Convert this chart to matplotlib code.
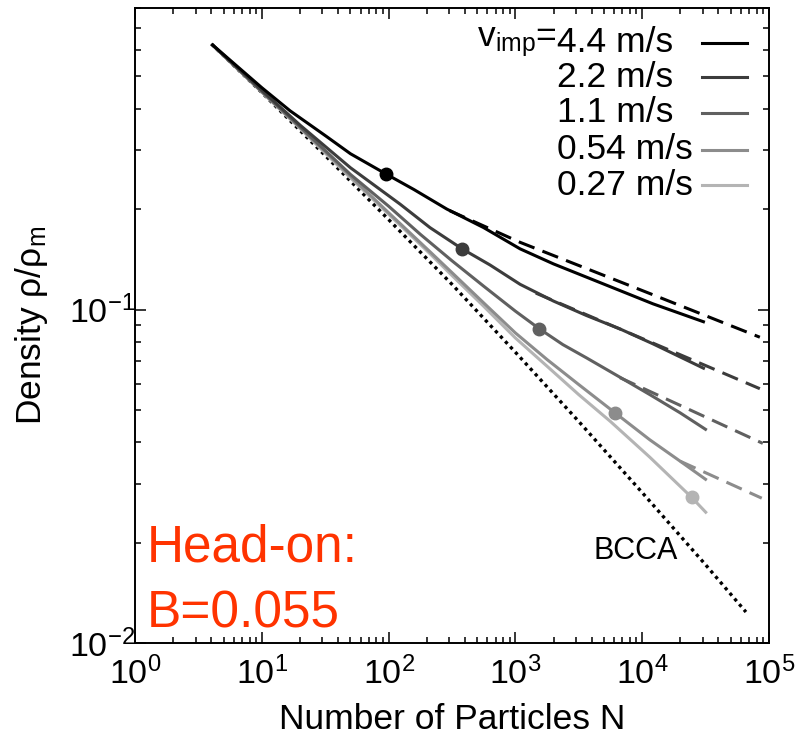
import matplotlib
matplotlib.use("Agg")
import matplotlib.pyplot as plt

plt.rcParams['font.family'] = ['Liberation Sans', 'DejaVu Sans']
plt.rcParams['mathtext.fontset'] = 'custom'
plt.rcParams['mathtext.rm'] = 'Liberation Sans'
plt.rcParams['mathtext.it'] = 'Liberation Sans'

# impact velocities (m/s) and their grey levels
speeds = ['4.4', '2.2', '1.1', '0.54', '0.27']
colors = ['#000000', '#3c3c3c', '#606060', '#8c8c8c', '#b4b4b4']

# BCCA reference line
bcca_n = [4, 10, 32, 100, 316, 1000, 3162, 10000, 31623, 66000]
bcca_rho = [0.625, 0.447, 0.288, 0.186, 0.119, 0.0745, 0.0462, 0.0283, 0.0172, 0.0124]

# simulated density vs. particle number
n_44 = [4, 10, 16.7, 32, 50, 95, 158, 288, 562, 1090, 2000, 3650, 6680, 12200, 31300]
rho_44 = [0.625, 0.462, 0.394, 0.331, 0.293, 0.255, 0.229, 0.200, 0.176, 0.152,
          0.137, 0.125, 0.114, 0.104, 0.0916]

n_22 = [4, 10, 20, 50, 123, 212, 380, 631, 1090, 2000, 3650, 6680, 12200, 31300]
rho_22 = [0.625, 0.454, 0.357, 0.266, 0.207, 0.176, 0.152, 0.136, 0.119, 0.106,
          0.0959, 0.0875, 0.0789, 0.0664]

n_11 = [4, 10, 20, 50, 100, 178, 316, 562, 1000, 1550, 2370, 3650, 6680, 11500, 20000, 32400]
rho_11 = [0.625, 0.450, 0.353, 0.254, 0.204, 0.168, 0.140, 0.1175, 0.0989, 0.0875,
          0.0785, 0.0716, 0.0627, 0.0556, 0.0490, 0.0435]

n_054 = [4, 10, 20, 50, 100, 212, 316, 562, 1000, 1780, 3160, 6170, 11500, 20000, 32400]
rho_054 = [0.625, 0.449, 0.351, 0.251, 0.195, 0.149, 0.129, 0.1047, 0.0851, 0.0708,
           0.0596, 0.0489, 0.0407, 0.0351, 0.0308]

n_027 = [4, 10, 20, 50, 100, 212, 316, 562, 1000, 1780, 3160, 5620, 11500, 24500, 32400]
rho_027 = [0.625, 0.448, 0.349, 0.248, 0.193, 0.147, 0.1265, 0.1023, 0.0822, 0.0676,
           0.0556, 0.0462, 0.0361, 0.0274, 0.0245]

# extrapolated power-law tails
tail_n_44 = [302, 1090, 12200, 85000]
tail_rho_44 = [0.198, 0.159, 0.1107, 0.0826]
tail_n_22 = [1450, 85000]
tail_rho_22 = [0.112, 0.0579]
tail_n_11 = [6680, 89700]
tail_rho_11 = [0.0625, 0.0397]
tail_n_054 = [20000, 88000]
tail_rho_054 = [0.0351, 0.0272]

# break points where the growth stalls
mark_n = [95, 380, 1540, 6100, 24600]
mark_rho = [0.255, 0.152, 0.0877, 0.049, 0.0274]

curves_n = [n_44, n_22, n_11, n_054, n_027]
curves_rho = [rho_44, rho_22, rho_11, rho_054, rho_027]
tails_n = [tail_n_44, tail_n_22, tail_n_11, tail_n_054]
tails_rho = [tail_rho_44, tail_rho_22, tail_rho_11, tail_rho_054]

fig = plt.figure(figsize=(8, 7.47), dpi=100)
ax = fig.add_axes([0.169, 0.139, 0.792, 0.850])

ax.plot(bcca_n, bcca_rho, color='black', lw=2.4, linestyle=(0, (1, 1.2)))

for i in range(len(tails_n)):
    ax.plot(tails_n[i], tails_rho[i], color=colors[i], lw=2.2,
            linestyle=(0, (5.5, 2.8)))

# draw lightest curve first so darker ones sit on top
for i in reversed(range(len(curves_n))):
    ax.plot(curves_n[i], curves_rho[i], color=colors[i], lw=2.2,
            solid_capstyle='butt', solid_joinstyle='round')
    ax.plot(mark_n[i], mark_rho[i], 'o', color=colors[i], ms=9)

ax.set_xscale('log')
ax.set_yscale('log')
ax.set_xlim(1, 1e5)
ax.set_ylim(0.01, 0.8)

ax.tick_params(which='both', direction='in', top=True, right=True,
               width=1.1, labelsize=24.5)
ax.tick_params(axis='x', pad=10)
ax.tick_params(axis='y', pad=0)
ax.tick_params(which='major', length=8)
ax.tick_params(which='minor', length=4)
for s in ax.spines.values():
    s.set_linewidth(1.4)

ax.set_xlabel('Number of Particles N', fontsize=25.5, labelpad=8)
ax.set_ylabel(r'Density $\mathregular{\rho/\rho_m}$', fontsize=25.5, labelpad=14)

# legend drawn by hand
row_y = [0.946, 0.891, 0.835, 0.777, 0.721]
for i, s in enumerate(speeds):
    ax.text(0.666, row_y[i], s + ' m/s', transform=ax.transAxes,
            fontsize=25.5, ha='left', va='center')
    ax.plot([0.894, 0.965], [row_y[i], row_y[i]], transform=ax.transAxes,
            color=colors[i], lw=2.2)
ax.text(0.666, row_y[0], r'$\mathregular{v_{imp}}$=', transform=ax.transAxes,
        fontsize=25.5, ha='right', va='center')

ax.text(0.723, 0.145, 'BCCA', transform=ax.transAxes, fontsize=22,
        ha='left', va='center')

ax.text(0.018, 0.025, 'Head-on:\nB=0.055', transform=ax.transAxes,
        fontsize=37, color='#ff3300', ha='left', va='baseline', linespacing=1.45)

fig.savefig('out.png', dpi=100)
